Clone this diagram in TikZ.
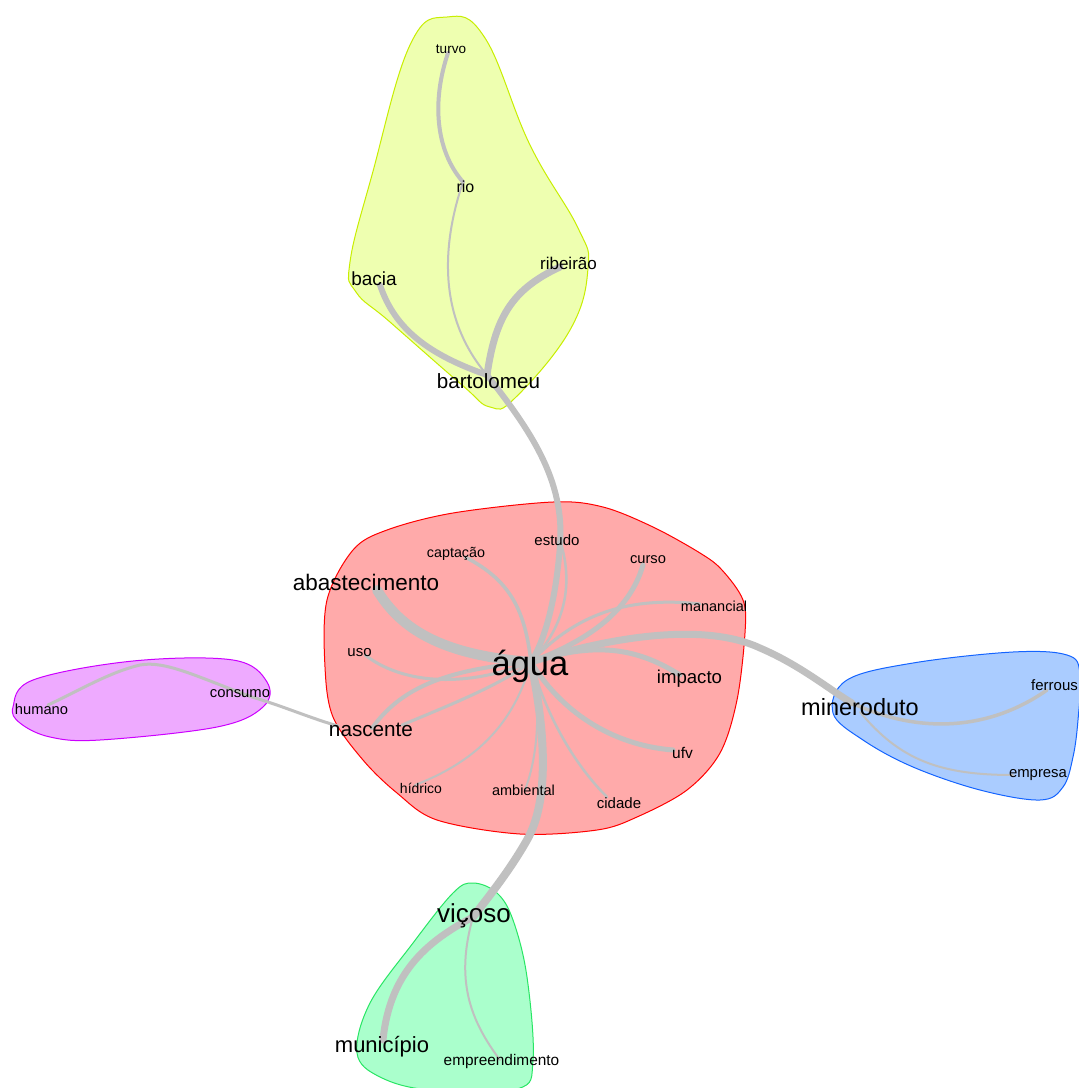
\documentclass[tikz,border=0pt]{standalone}
\usepackage{fontspec}
\setmainfont{Liberation Sans}
\newcommand{\myfs}[1]{\fontsize{#1}{#1}\selectfont}
\definecolor{edgec}{RGB}{192,192,192}
\definecolor{redfill}{RGB}{255,170,170}
\definecolor{redline}{RGB}{255,0,0}
\definecolor{yelfill}{RGB}{238,255,176}
\definecolor{yelline}{RGB}{200,238,0}
\definecolor{blufill}{RGB}{170,204,255}
\definecolor{bluline}{RGB}{20,100,255}
\definecolor{purfill}{RGB}{238,170,255}
\definecolor{purline}{RGB}{204,0,255}
\definecolor{grnfill}{RGB}{170,255,204}
\definecolor{grnline}{RGB}{40,230,100}
\tikzset{
  blob/.style={line width=1pt},
  edge/.style={draw=edgec, line cap=round, line join=round},
  lbl/.style={anchor=base, inner sep=0pt, text=black},
}
\begin{document}
\begin{tikzpicture}[x=1pt,y=-1pt]
\useasboundingbox (0,0) rectangle (1079,1088);
\fill[white] (0,0) rectangle (1079,1088);
% clusters
\begin{scope}
\clip (0,0) rectangle (1079,1088);
\draw[blob, fill=redfill, draw=redline] plot[smooth cycle, tension=0.55] coordinates {(553,502) (603,507) (653,527) (700,553) (722,570) (743,600) (745,633) (737,700) (720,753) (687,790) (637,817) (597,830) (520,834) (437,820) (397,793) (363,760) (333,717) (325,667) (327,600) (353,550) (387,530) (453,513)};
\draw[blob, fill=yelfill, draw=yelline] plot[smooth cycle, tension=0.7] coordinates {(447,17) (485,38) (530,145) (578,228) (588,268) (570,330) (515,398) (490,407) (462,385) (390,322) (356,292) (350,262) (372,175) (410,45)};
\draw[blob, fill=blufill, draw=bluline] plot[smooth cycle, tension=0.6] coordinates {(833,713) (847,680) (913,663) (1013,652) (1067,655) (1080,673) (1078,720) (1073,757) (1063,787) (1040,800) (980,790) (913,767) (863,740)};
\draw[blob, fill=purfill, draw=purline] plot[smooth cycle, tension=0.6] coordinates {(13,707) (33,680) (133,661) (233,660) (267,682) (263,707) (217,727) (100,740) (50,737) (20,723)};
\draw[blob, fill=grnfill, draw=grnline] plot[smooth cycle, tension=0.6] coordinates {(473,883) (453,893) (413,943) (370,1003) (357,1053) (380,1077) (430,1090) (517,1089) (533,1060) (527,977) (513,920) (497,893)};
\end{scope}
% hub coordinates
\coordinate (cAgua) at (531,662);
\coordinate (cBart) at (487,375);
\coordinate (cTurvo) at (448,53);
\coordinate (cRio) at (463,182);
\coordinate (cRib) at (560,267);
\coordinate (cBacia) at (380,285);
\coordinate (cAbast) at (377,590);
\coordinate (cCapt) at (465,557);
\coordinate (cEstudo) at (562,547);
\coordinate (cCurso) at (643,565);
\coordinate (cMan) at (700,604);
\coordinate (cImp) at (680,675);
\coordinate (cUso) at (365,655);
\coordinate (cNasc) at (372,728);
\coordinate (cNasc2) at (402,725);
\coordinate (cNasc3) at (338,726);
\coordinate (cHid) at (415,785);
\coordinate (cAmb) at (525,790);
\coordinate (cCid) at (607,797);
\coordinate (cUfv) at (673,750);
\coordinate (cMin) at (852,703);
\coordinate (cMin2) at (860,712);
\coordinate (cFer) at (1047,690);
\coordinate (cEmp) at (1013,775);
\coordinate (cCons) at (252,697);
\coordinate (cHum) at (48,705);
\coordinate (cVic) at (473,917);
\coordinate (cMun) at (383,1040);
\coordinate (cEmpr) at (500,1060);
% edges
\draw[edge, line width=6pt] (cBart) .. controls (530,430) and (565,480) .. (560,545) .. controls (556,600) and (545,640) .. (cAgua);
\draw[edge, line width=2.5pt] (cEstudo) .. controls (572,585) and (566,625) .. (cAgua);
\draw[edge, line width=10pt] (cAbast) .. controls (400,628) and (440,655) .. (cAgua);
\draw[edge, line width=3.5pt] (cCapt) .. controls (510,580) and (525,610) .. (cAgua);
\draw[edge, line width=5pt] (cCurso) .. controls (630,610) and (590,640) .. (cAgua);
\draw[edge, line width=3pt] (cMan) .. controls (620,595) and (570,620) .. (cAgua);
\draw[edge, line width=7pt] (cAgua) .. controls (600,640) and (700,620) .. (760,648) .. controls (800,665) and (830,690) .. (cMin);
\draw[edge, line width=5pt] (cImp) .. controls (640,650) and (600,640) .. (cAgua);
\draw[edge, line width=3pt] (cUso) .. controls (400,682) and (460,690) .. (cAgua);
\draw[edge, line width=4pt] (cNasc) .. controls (400,690) and (440,670) .. (cAgua);
\draw[edge, line width=3pt] (cNasc2) .. controls (450,705) and (500,685) .. (cAgua);
\draw[edge, line width=2pt] (cHid) .. controls (480,760) and (515,720) .. (cAgua);
\draw[edge, line width=2pt] (cAmb) .. controls (540,750) and (540,700) .. (cAgua);
\draw[edge, line width=2.5pt] (cCid) .. controls (570,760) and (545,710) .. (cAgua);
\draw[edge, line width=5pt] (cUfv) .. controls (610,745) and (560,710) .. (cAgua);
\draw[edge, line width=8pt] (cAgua) .. controls (545,730) and (550,800) .. (527,840) .. controls (510,870) and (490,895) .. (cVic);
\draw[edge, line width=7pt] (cVic) .. controls (430,940) and (390,970) .. (cMun);
\draw[edge, line width=2pt] (cVic) .. controls (455,980) and (470,1020) .. (cEmpr);
\draw[edge, line width=3pt] (cCons) .. controls (280,705) and (310,718) .. (cNasc3);
\draw[edge, line width=3pt] (cCons) .. controls (200,678) and (165,660) .. (140,665) .. controls (110,672) and (80,690) .. (cHum);
\draw[edge, line width=3.5pt] (cMin) .. controls (920,735) and (990,730) .. (cFer);
\draw[edge, line width=2pt] (cMin2) .. controls (900,760) and (940,775) .. (cEmp);
\draw[edge, line width=6pt] (cBacia) .. controls (395,330) and (430,355) .. (cBart);
\draw[edge, line width=7pt] (cRib) .. controls (510,290) and (495,320) .. (cBart);
\draw[edge, line width=4pt] (cTurvo) .. controls (432,100) and (435,150) .. (cRio);
\draw[edge, line width=2pt] (cRio) .. controls (440,250) and (440,320) .. (cBart);
% labels
\node[lbl, font=\myfs{34.5}] (agua) at (530,675) {água};
\node[lbl, font=\myfs{22.5}] (abast) at (366,590) {abastecimento};
\node[lbl, font=\myfs{14.3}] (capt) at (456,557) {captação};
\node[lbl, font=\myfs{15}] (estudo) at (557,545) {estudo};
\node[lbl, font=\myfs{14.7}] (curso) at (648,563) {curso};
\node[lbl, font=\myfs{14.5}] (manan) at (714,611) {manancial};
\node[lbl, font=\myfs{15}] (uso) at (359.5,656) {uso};
\node[lbl, font=\myfs{18.6}] (impacto) at (689.5,683) {impacto};
\node[lbl, font=\myfs{20.7}] (nascente) at (371,736) {nascente};
\node[lbl, font=\myfs{15.5}] (ufv) at (682.5,758) {ufv};
\node[lbl, font=\myfs{14}] (hidrico) at (421,793) {hídrico};
\node[lbl, font=\myfs{14.5}] (ambiental) at (523.5,795) {ambiental};
\node[lbl, font=\myfs{15}] (cidade) at (619,808) {cidade};
\node[lbl, font=\myfs{13.5}] (turvo) at (451,53) {turvo};
\node[lbl, font=\myfs{16}] (rio) at (465.5,192) {rio};
\node[lbl, font=\myfs{17}] (ribeirao) at (568.5,269) {ribeirão};
\node[lbl, font=\myfs{19}] (bacia) at (374,285) {bacia};
\node[lbl, font=\myfs{20.6}] (bartolomeu) at (488.5,388) {bartolomeu};
\node[lbl, font=\myfs{23.5}] (mineroduto) at (860,715) {mineroduto};
\node[lbl, font=\myfs{15}] (ferrous) at (1054.5,690) {ferrous};
\node[lbl, font=\myfs{14.9}] (empresa) at (1038,777) {empresa};
\node[lbl, font=\myfs{14.8}] (consumo) at (240,697) {consumo};
\node[lbl, font=\myfs{14.7}] (humano) at (41.5,714) {humano};
\node[lbl, font=\myfs{26}] (vicoso) at (474,922) {viçoso};
\node[lbl, font=\myfs{22}] (municipio) at (382,1052) {município};
\node[lbl, font=\myfs{15.4}] (empreend) at (501.5,1065) {empreendimento};
\end{tikzpicture}
\end{document}
